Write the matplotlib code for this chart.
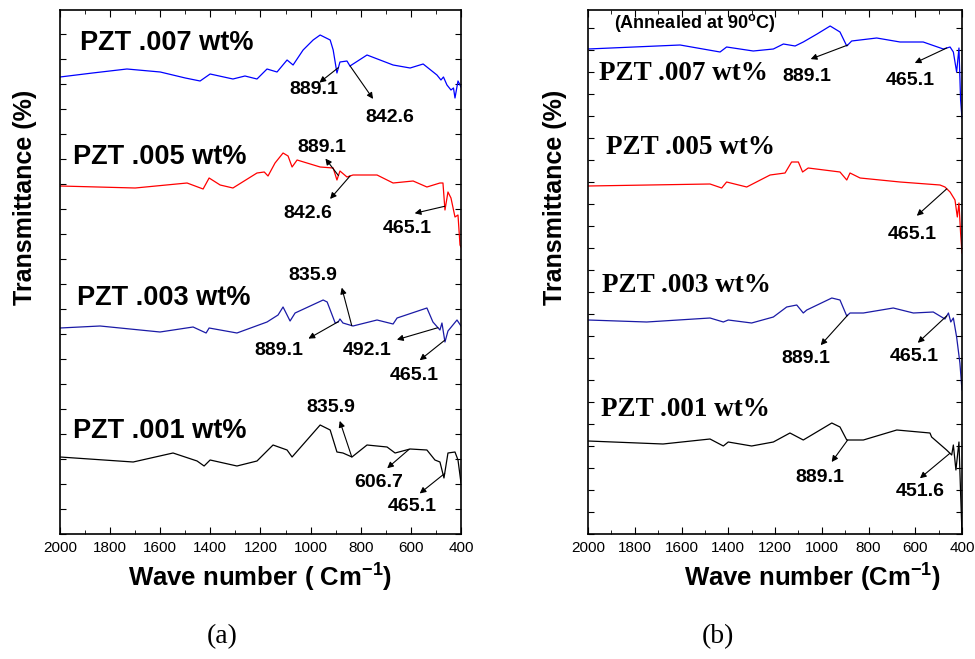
import numpy as np
import matplotlib
matplotlib.use('Agg')
import matplotlib.pyplot as plt
from matplotlib.ticker import MultipleLocator

plt.rcParams['font.family'] = ['Liberation Sans', 'DejaVu Sans']
plt.rcParams['mathtext.fontset'] = 'custom'
plt.rcParams['mathtext.rm'] = 'Liberation Sans:bold'
plt.rcParams['mathtext.bf'] = 'Liberation Sans:bold'

# ---- (a) as prepared ----
a007_wn = [2000, 1870, 1733, 1600, 1500, 1441, 1401, 1310, 1262, 1214, 1174, 1134, 1094, 1070, 1030, 990,
           962, 922, 910, 895, 883, 855, 843, 775, 671, 603, 551, 496, 480, 470, 456, 440, 430, 424, 412, 400]
a007_t = [457, 461, 465, 462, 456, 453, 460, 455, 458, 455, 465, 462, 474, 469, 484, 494,
          499, 494, 484, 461, 472, 473, 468, 479, 469, 466, 470, 459, 454, 457, 449, 444, 446, 436, 453, 447]

a005_wn = [2000, 1700, 1493, 1429, 1405, 1361, 1310, 1214, 1185, 1170, 1142, 1110, 1090, 1074, 1054, 962,
           910, 895, 883, 855, 831, 735, 671, 591, 536, 484, 472, 464, 452, 440, 424, 412, 404, 400]
a005_t = [348, 346, 351, 345, 356, 349, 346, 361, 362, 358, 371, 381, 378, 367, 374, 367,
          366, 354, 363, 357, 359, 359, 351, 353, 347, 351, 351, 324, 342, 336, 317, 319, 289, 287]

a003_wn = [2000, 1840, 1601, 1469, 1417, 1405, 1294, 1174, 1130, 1110, 1082, 1062, 950, 934, 902, 890,
           883, 871, 831, 735, 671, 655, 536, 512, 484, 476, 464, 452, 416, 400]
a003_t = [206, 208, 202, 207, 201, 206, 201, 212, 219, 227, 213, 221, 234, 232, 211, 212,
          215, 211, 208, 214, 210, 216, 226, 212, 204, 211, 192, 203, 214, 208]

a001_wn = [2000, 1708, 1549, 1453, 1425, 1401, 1294, 1214, 1150, 1094, 1074, 962, 922, 895, 871, 835,
           775, 695, 663, 603, 536, 504, 484, 468, 452, 424, 412, 400]
a001_t = [77, 72, 81, 73, 68, 74, 68, 73, 89, 84, 77, 109, 104, 82, 81, 77,
          89, 87, 81, 85, 84, 74, 72, 56, 81, 82, 74, 51]

# ---- (b) annealed at 90 C ----
b007_wn = [2000, 1606, 1435, 1407, 1293, 1207, 1164, 1114, 1079, 1020, 964, 922, 893, 872, 765, 665,
           566, 480, 451, 437, 423, 413, 406, 400]
b007_t = [485, 489, 482, 487, 483, 485, 490, 488, 492, 500, 508, 502, 488, 493, 496, 492,
          492, 485, 487, 482, 462, 486, 434, 416]

b005_wn = [2000, 1478, 1428, 1407, 1321, 1221, 1157, 1129, 1100, 1082, 1058, 922, 893, 879, 836, 665,
           494, 473, 451, 430, 420, 413, 406, 400]
b005_t = [348, 350, 346, 352, 347, 359, 361, 372, 372, 362, 366, 362, 354, 361, 356, 352,
          349, 347, 342, 334, 317, 331, 301, 281]

b003_wn = [2000, 1749, 1478, 1421, 1400, 1300, 1207, 1150, 1107, 1079, 1064, 957, 922, 893, 879, 822,
           694, 608, 523, 473, 458, 448, 437, 423, 409, 400]
b003_t = [214, 212, 216, 212, 214, 211, 217, 227, 229, 221, 224, 236, 234, 218, 221, 221,
          226, 221, 222, 215, 221, 212, 216, 197, 171, 144]

b001_wn = [2000, 1679, 1478, 1421, 1400, 1300, 1207, 1136, 1079, 957, 922, 893, 822, 679, 537, 530,
           466, 444, 437, 426, 413, 406, 400]
b001_t = [93, 90, 95, 88, 92, 88, 92, 101, 94, 111, 107, 94, 94, 104, 101, 97,
          84, 79, 89, 64, 92, 41, 0]

series_a = [('PZT .007 wt%', a007_wn, a007_t, '#0000ff'),
            ('PZT .005 wt%', a005_wn, a005_t, '#ff0000'),
            ('PZT .003 wt%', a003_wn, a003_t, '#1a1aa6'),
            ('PZT .001 wt%', a001_wn, a001_t, '#000000')]
series_b = [('PZT .007 wt%', b007_wn, b007_t, '#0000ff'),
            ('PZT .005 wt%', b005_wn, b005_t, '#ff0000'),
            ('PZT .003 wt%', b003_wn, b003_t, '#1a1aa6'),
            ('PZT .001 wt%', b001_wn, b001_t, '#000000')]

# label positions (wavenumber, transmittance) for the sample names
names_a = [(1920, 491), (1948, 377), (1932, 236), (1948, 103)]
names_b = [(1955, 461), (1925, 387), (1940, 248), (1945, 124)]

# peak marks: series index, peak label, arrow-head offset, text offset (pixels)
marks_a = [(0, '889.1', (-19, -15), (-25, -22)),
           (0, '842.6', (23, -33), (40, -52)),
           (1, '889.1', (-13, 17), (-17, 28)),
           (1, '842.6', (-20, -23), (-42, -38)),
           (1, '465.1', (-30, -7), (-37, -22)),
           (2, '835.9', (-10, 38), (-39, 50)),
           (2, '889.1', (-30, -17), (-60, -29)),
           (2, '492.1', (-41, -12), (-71, -23)),
           (2, '465.1', (-25, -20), (-30, -35)),
           (3, '835.9', (-12, 36), (-21, 49)),
           (3, '606.7', (-22, -19), (-31, -33)),
           (3, '465.1', (-25, -20), (-32, -33))]
marks_b = [(0, '889.1', (-37, -14), (-41, -31)),
           (0, '465.1', (-32, -15), (-37, -33)),
           (1, '465.1', (-30, -27), (-35, -46)),
           (2, '889.1', (-27, -30), (-42, -43)),
           (2, '465.1', (-29, -27), (-33, -41)),
           (3, '889.1', (-16, -22), (-28, -37)),
           (3, '451.6', (-30, -25), (-30, -38))]

fig = plt.figure(figsize=(9.75, 6.59), dpi=100)
ax_a = fig.add_axes([60 / 975, 125 / 659, 401 / 975, 524 / 659])
ax_b = fig.add_axes([588 / 975, 125 / 659, 374 / 975, 524 / 659])


def draw(ax, series, names, marks, name_font, ystep):
    for (name, wn, t, col), (nx, ny) in zip(series, names):
        ax.plot(wn, t, color=col, lw=0.9)
        ax.text(nx, ny, name, ha='left', va='center', **name_font)
    for idx, lab, head, txt in marks:
        wn, t = series[idx][1], series[idx][2]
        x = float(lab)
        y = np.interp(x, wn[::-1], t[::-1])
        ax.annotate('', xy=(x, y), xytext=head, textcoords='offset pixels',
                    arrowprops=dict(arrowstyle='<|-', color='black', lw=0.8,
                                    mutation_scale=9, shrinkA=0, shrinkB=0))
        ax.annotate(lab, xy=(x, y), xytext=txt, textcoords='offset pixels',
                    ha='center', va='center', fontsize=14, fontweight='bold')
    ax.set_xlim(2000, 400)
    ax.set_ylim(0, 524)
    ax.xaxis.set_major_locator(MultipleLocator(200))
    ax.xaxis.set_minor_locator(MultipleLocator(100))
    ax.yaxis.set_major_locator(MultipleLocator(ystep))
    ax.tick_params(axis='both', which='both', direction='in', top=True, right=True)
    ax.tick_params(axis='x', which='major', length=5, pad=5, labelsize=11)
    ax.tick_params(axis='x', which='minor', length=3)
    ax.tick_params(axis='y', which='major', length=4, labelleft=False)
    for sp in ax.spines.values():
        sp.set_linewidth(1.2)
    ax.set_ylabel('Transmittance (%)', fontsize=18, fontweight='bold')


draw(ax_a, series_a, names_a, marks_a,
     dict(fontsize=19.5, fontweight='bold', family='Liberation Sans'), 25)
draw(ax_b, series_b, names_b, marks_b,
     dict(fontsize=19.5, fontweight='bold', family='Liberation Serif'), 22)

ax_a.yaxis.set_label_coords(-0.058, 0.643)
ax_b.yaxis.set_label_coords(-0.056, 0.643)

ax_a.set_xlabel(r'Wave number ( Cm$^{-1}$)', fontsize=18.5, fontweight='bold')
ax_a.xaxis.set_label_coords(0.5, -0.05)
ax_b.set_xlabel(r'Wave number (Cm$^{-1}$)', fontsize=18.5, fontweight='bold')
ax_b.xaxis.set_label_coords(0.6, -0.05)

ax_b.text(0.07, 0.975, r'(Annealed at 90$^{\mathrm{o}}$C)', transform=ax_b.transAxes,
          ha='left', va='center', fontsize=13, fontweight='bold')

fig.text(222 / 975, 1 - 637 / 659, '(a)', ha='center', va='center', fontsize=20, family='Liberation Serif')
fig.text(718 / 975, 1 - 637 / 659, '(b)', ha='center', va='center', fontsize=20, family='Liberation Serif')

fig.savefig('out.png', dpi=100)
